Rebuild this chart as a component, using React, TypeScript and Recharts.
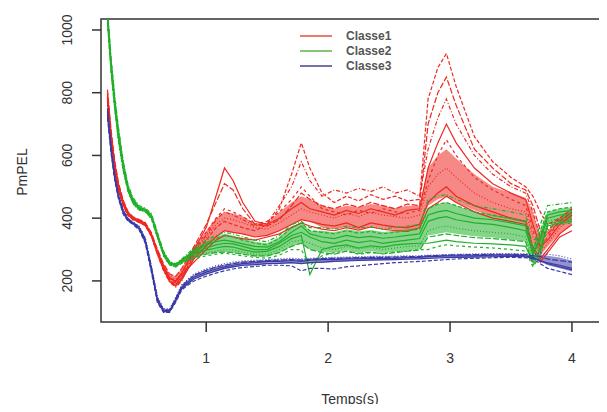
import { ComposedChart, Line, Area, XAxis, YAxis, ReferenceArea } from "recharts";

// time grid (s)
const times = [
  0.19, 0.22, 0.25, 0.28, 0.32, 0.36, 0.4, 0.45, 0.5, 0.55, 0.6, 0.65, 0.7, 0.75, 0.8,
  0.9, 1.0, 1.08, 1.15, 1.22, 1.3, 1.4, 1.5, 1.6, 1.7, 1.78, 1.85,
  1.95, 2.05, 2.15, 2.25, 2.35, 2.45, 2.55, 2.65, 2.75,
  2.82, 2.9, 2.97, 3.05, 3.2, 3.35, 3.5, 3.62, 3.68, 3.74, 3.8, 3.9, 4.0,
];

const classe1 = [
  [800,670,575,508,452,418,402,394,384,350,295,245,210,200,225, 300,370,470,560,520,450,390,380,400,430,450,430, 420,410,425,415,430,420,410,425,430, 560,640,700,640,560,510,480,460,380,310,330,380,410],
  [770,645,550,488,438,408,395,386,376,342,285,235,200,190,210, 280,330,370,390,380,370,360,380,430,540,640,560, 480,450,470,455,475,460,470,455,460, 780,880,925,820,660,580,530,500,470,420,380,400,430],
  [795,665,570,504,448,416,400,392,382,348,300,250,215,205,230, 290,340,380,400,395,385,370,365,385,410,430,420, 410,400,415,405,420,410,405,400,410, 500,540,560,530,480,450,430,420,340,290,320,370,400],
  [780,652,558,494,442,410,397,388,378,344,288,238,198,185,205, 270,310,340,360,355,350,340,345,360,380,395,390, 380,375,385,370,385,378,372,370,380, 450,480,500,470,440,420,400,390,310,270,300,350,380],
  [810,680,582,514,456,420,404,396,386,354,300,255,222,215,240, 310,380,450,510,490,430,380,375,395,440,480,460, 440,430,445,435,450,440,430,445,440, 700,800,850,760,620,560,510,490,440,360,350,390,420],
  [775,648,554,490,440,409,396,387,377,343,284,232,196,180,200, 295,345,395,420,410,395,375,385,440,500,580,520, 470,490,480,495,485,500,480,490,470, 620,720,780,700,600,540,500,480,420,340,360,400,430],
  [790,660,565,500,446,414,399,391,381,347,292,242,208,198,220, 260,300,330,345,340,335,330,340,350,370,385,375, 365,360,370,362,372,365,360,358,370, 430,450,470,450,420,400,390,380,300,260,290,340,360],
  [785,656,562,497,444,412,398,390,380,346,289,239,204,194,212, 300,355,400,430,420,405,380,390,420,460,500,470, 430,420,410,425,415,430,420,415,425, 520,600,650,600,530,490,460,440,360,300,340,390,420],
];

const classe2 = [
  [1060,900,780,680,575,500,460,435,428,410,350,290,260,252,265, 290,305,315,320,318,310,300,300,320,345,355,340, 325,320,330,322,328,320,325,330,335, 390,400,405,395,385,380,370,360,290,330,400,410,415],
  [1040,880,760,660,560,490,452,430,425,405,345,285,255,248,262, 300,320,335,345,340,330,320,315,335,370,385,360, 355,350,360,352,358,350,355,360,365, 430,445,450,440,420,410,400,390,300,360,420,430,435],
  [1020,860,745,645,548,482,445,425,420,398,338,278,250,245,258, 280,290,295,300,298,292,285,285,300,325,330,320, 305,300,310,302,308,300,305,310,312, 360,370,375,368,360,355,350,340,270,300,390,400,405],
  [1050,890,770,670,568,495,455,432,427,408,348,288,258,252,268, 295,315,325,330,325,318,310,308,325,355,375,350, 340,335,345,338,342,336,340,345,350, 410,420,425,415,400,395,385,375,280,340,410,420,425],
  [1030,870,752,652,553,486,448,428,422,400,340,282,252,246,260, 275,285,290,292,290,285,280,280,290,310,320,300, 290,285,295,288,292,286,290,295,298, 340,345,350,345,338,335,330,325,250,290,380,390,395],
  [1070,910,790,690,580,505,465,440,432,415,355,295,262,255,270, 305,330,345,355,350,340,330,325,345,380,390,370, 370,365,375,368,372,366,370,375,380, 460,470,475,460,440,430,420,410,310,380,440,445,450],
  [1045,885,765,665,563,492,454,431,426,406,346,287,257,250,264, 285,298,305,310,308,300,292,294,310,335,345,220, 300,310,315,305,312,308,315,318,320, 320,325,330,325,320,318,315,310,260,300,375,385,390],
  [1025,865,748,648,550,484,447,426,421,399,339,280,251,244,256, 270,280,285,288,285,280,275,272,282,300,300,250, 280,290,295,285,290,288,292,296,300, 300,310,315,312,308,305,300,295,245,280,370,380,385],
];

const classe3 = [
  [740,620,530,470,420,395,385,370,330,240,140,105,105,140,180, 212,228,238,245,250,255,258,262,262,265,262,266, 268,268,270,270,272,271,272,274,275, 278,278,280,280,280,282,282,280,275,262,258,250,240],
  [720,605,520,462,412,390,380,362,320,228,130,100,100,132,172, 200,215,225,232,238,243,246,250,250,248,232,240, 240,238,245,248,252,255,258,260,262, 264,266,268,270,272,274,275,274,270,255,240,230,220],
  [760,635,540,478,428,400,388,375,338,250,150,112,110,148,188, 222,238,248,255,260,264,266,268,270,272,270,272, 274,275,276,277,278,278,279,280,280, 282,283,284,285,286,287,287,286,282,290,285,280,270],
  [730,612,525,466,416,392,382,366,325,235,135,102,102,136,176, 206,222,232,240,245,250,252,255,256,258,255,258, 260,262,264,265,266,267,268,269,270, 272,273,274,275,276,277,278,277,272,265,255,245,235],
  [750,628,535,474,424,398,386,372,334,245,145,108,108,144,184, 218,234,244,250,255,260,262,265,266,268,266,269, 271,272,273,274,275,275,276,277,278, 280,281,282,283,284,285,285,284,280,278,270,265,260],
];

// dense core of each class (low / high)
const classe1Low = [770,645,550,488,438,408,395,386,376,342,284,232,196,180,200, 270,310,340,360,355,350,340,345,360,380,395,390, 370,365,372,365,375,368,362,360,372, 440,460,470,450,425,405,395,385,320,280,310,350,380];
const classe1High = [810,680,582,514,456,420,404,396,386,354,300,255,222,215,240, 310,360,400,420,415,405,385,385,420,450,470,460, 440,430,440,435,445,440,432,440,440, 560,600,620,590,540,500,480,465,420,340,360,400,425];
const classe2Low = [1020,860,745,645,548,482,445,425,420,398,338,278,250,244,256, 275,285,290,292,290,285,278,278,290,310,320,300, 292,290,298,290,295,290,293,298,300, 345,350,355,350,342,338,332,325,255,295,380,390,395];
const classe2High = [1070,910,790,690,580,505,465,440,432,415,355,295,262,255,270, 300,325,340,350,345,335,325,320,340,375,385,360, 360,355,365,358,362,356,360,365,370, 430,445,450,440,420,410,400,390,300,360,420,430,435];
const classe3Low = [720,605,520,462,412,390,380,362,320,228,130,100,100,132,172, 205,220,230,238,243,248,250,254,255,256,255,257, 258,260,263,265,266,267,268,269,270, 272,273,274,275,276,277,278,277,272,262,250,240,230];
const classe3High = [760,635,540,478,428,400,388,375,338,250,150,112,110,148,188, 220,236,246,252,258,262,265,267,268,270,268,271, 273,274,275,276,277,277,278,279,279, 281,282,283,284,285,286,286,285,281,285,280,275,265];

const xTicks = [1, 2, 3, 4];
const yTicks = [200, 400, 600, 800, 1000];
const classNames = ["Classe1", "Classe2", "Classe3"];

const colors = ["#ee2820", "#20b02a", "#3a3aa6"];
const legendColors = ["#e87a72", "#86c47a", "#7474a6"];
const dashes = ["", "4 2", "1 2", "", "6 2", "1 2 4 2", "", "3 3"];

const groups = [classe1, classe2, classe3];
const lows = [classe1Low, classe2Low, classe3Low];
const highs = [classe1High, classe2High, classe3High];

const data = times.map((t, i) => {
  const row: Record<string, any> = { t };
  groups.forEach((g, c) => {
    g.forEach((curve, k) => (row[`c${c}_${k}`] = curve[i]));
    row[`band${c}`] = [lows[c][i], highs[c][i]];
  });
  return row;
});

const font = "'Liberation Sans', Arial, sans-serif";
const PLOT_LEFT = 101;
const PLOT_BOTTOM = 322;

const YTick = ({ y, payload }: any) => (
  <g>
    <line x1={PLOT_LEFT - 9} x2={PLOT_LEFT} y1={y} y2={y} stroke="#333" strokeWidth={1.5} />
    <text transform={`translate(72, ${y}) rotate(-90)`} textAnchor="middle" fontSize={14} fill="#333" fontFamily={font}>
      {payload.value}
    </text>
  </g>
);

const XTick = ({ x, payload }: any) => (
  <g>
    <line x1={x} x2={x} y1={PLOT_BOTTOM} y2={PLOT_BOTTOM + 10} stroke="#333" strokeWidth={1.5} />
    <text x={x} y={363} textAnchor="middle" fontSize={14} fill="#333" fontFamily={font}>
      {payload.value}
    </text>
  </g>
);

export default function App() {
  return (
    <div style={{ position: "relative", width: 607, height: 412, margin: -8, background: "#fff", fontFamily: font }}>
      <ComposedChart width={607} height={412} data={data} margin={{ top: 19, right: 7, bottom: 30, left: 41 }}>
        <XAxis
          dataKey="t"
          type="number"
          domain={[0.137, 4.23]}
          allowDataOverflow
          ticks={xTicks}
          tick={XTick}
          tickLine={false}
          axisLine={false}
          height={60}
        />
        <YAxis
          type="number"
          domain={[69, 1035]}
          allowDataOverflow
          ticks={yTicks}
          tick={YTick}
          tickLine={false}
          axisLine={false}
          width={60}
        />
        {groups.flatMap((g, c) => [
          <Area
            key={`band${c}`}
            dataKey={`band${c}`}
            type="linear"
            stroke="none"
            fill={colors[c]}
            fillOpacity={0.55}
            isAnimationActive={false}
          />,
          ...g.map((_, k) => (
            <Line
              key={`c${c}_${k}`}
              dataKey={`c${c}_${k}`}
              stroke={colors[c]}
              strokeWidth={1.2}
              strokeDasharray={dashes[k % dashes.length]}
              dot={false}
              type="linear"
              isAnimationActive={false}
            />
          )),
        ])}
        <ReferenceArea
          x1={0.137}
          x2={4.23}
          y1={69}
          y2={1035}
          fill="none"
          stroke="#333"
          strokeWidth={1.5}
          ifOverflow="visible"
        />
      </ComposedChart>
      <div style={{ position: "absolute", left: 300, top: 28 }}>
        {classNames.map((n, i) => (
          <div key={n} style={{ display: "flex", alignItems: "center", height: 15 }}>
            <div style={{ width: 32, height: 2, background: legendColors[i], marginRight: 14 }} />
            <span style={{ fontSize: 12, fontWeight: "bold", color: "#555" }}>{n}</span>
          </div>
        ))}
      </div>
      <div
        style={{
          position: "absolute",
          left: 22,
          top: 172,
          transform: "translate(-50%, -50%) rotate(-90deg)",
          fontSize: 14,
          color: "#333",
          whiteSpace: "nowrap",
        }}
      >
        PmPEL
      </div>
      <div
        style={{
          position: "absolute",
          left: 350,
          top: 399,
          transform: "translate(-50%, -50%)",
          fontSize: 14,
          color: "#333",
          whiteSpace: "nowrap",
        }}
      >
        Temps(s)
      </div>
    </div>
  );
}
